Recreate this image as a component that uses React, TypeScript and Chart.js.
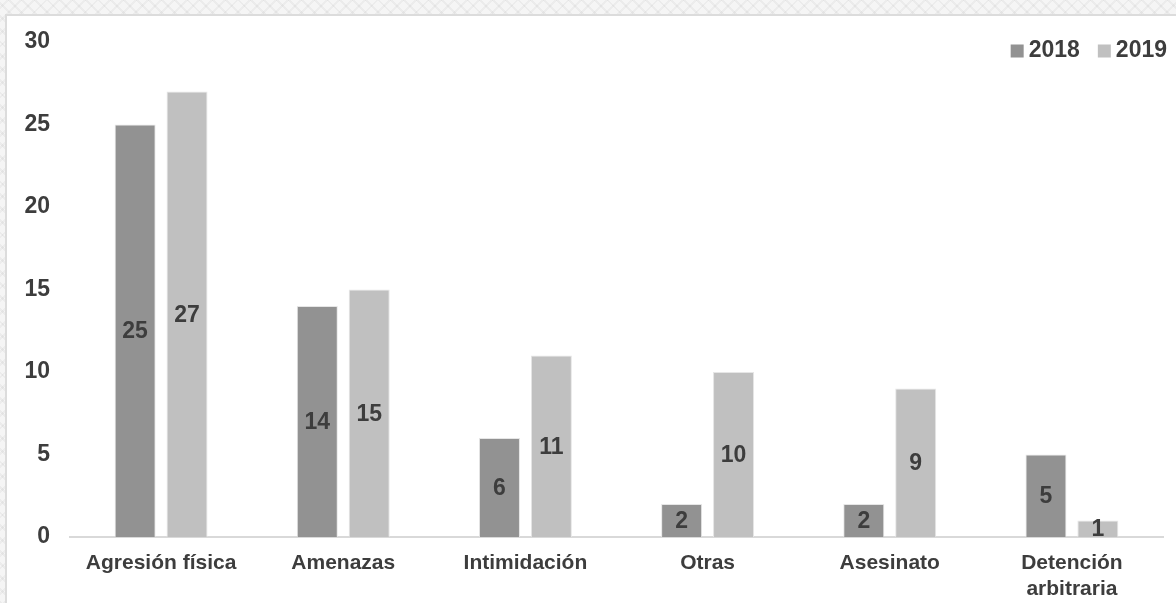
import React, { useEffect, useRef } from "react";
import { Chart, registerables } from "chart.js";

Chart.register(...registerables);

const categories: (string | string[])[] = [
  "Agresión física",
  "Amenazas",
  "Intimidación",
  "Otras",
  "Asesinato",
  ["Detención", "arbitraria"],
];
const series2018 = [25, 14, 6, 2, 2, 5];
const series2019 = [27, 15, 11, 10, 9, 1];
const seriesLabels = ["2018", "2019"];
const seriesColors = ["#929292", "#c0c0c0"];
const yTicks = [0, 5, 10, 15, 20, 25, 30];

const TEXT = "#3d3d3d";
const FONT = "'Liberation Sans', Arial, sans-serif";

const valueLabels = {
  id: "valueLabels",
  afterDatasetsDraw(chart: any) {
    const ctx = chart.ctx;
    ctx.save();
    ctx.font = `bold 23px ${FONT}`;
    ctx.fillStyle = TEXT;
    ctx.textAlign = "center";
    ctx.textBaseline = "middle";
    chart.data.datasets.forEach((ds: any, i: number) => {
      const meta = chart.getDatasetMeta(i);
      meta.data.forEach((bar: any, j: number) => {
        const y = (bar.y + bar.base) / 2;
        ctx.fillText(String(ds.data[j]), bar.x, y + 1);
      });
    });
    ctx.restore();
  },
};

const customLegend = {
  id: "customLegend",
  afterDraw(chart: any) {
    const ctx = chart.ctx;
    ctx.save();
    ctx.font = `bold 23px ${FONT}`;
    ctx.textBaseline = "middle";
    ctx.textAlign = "left";
    const right = 1167;
    const cy = 51;
    const box = 13;
    const gap = 5;
    const itemGap = 18;
    const items = chart.data.datasets.map((ds: any) => ({
      label: ds.label,
      color: ds.backgroundColor,
      w: ctx.measureText(ds.label).width,
    }));
    let total = 0;
    items.forEach((it: any, i: number) => {
      total += box + gap + it.w + (i < items.length - 1 ? itemGap : 0);
    });
    let x = right - total;
    items.forEach((it: any) => {
      ctx.fillStyle = it.color;
      ctx.fillRect(x, cy - box / 2, box, box);
      x += box + gap;
      ctx.fillStyle = TEXT;
      ctx.fillText(it.label, x, cy);
      x += it.w + itemGap;
    });
    ctx.restore();
  },
};

export default function App() {
  const ref = useRef<HTMLCanvasElement>(null);

  useEffect(() => {
    if (!ref.current) return;
    const chart = new Chart(ref.current, {
      type: "bar",
      data: {
        labels: categories,
        datasets: [
          {
            label: seriesLabels[0],
            data: series2018,
            backgroundColor: seriesColors[0],
            borderColor: "#e6e6e6",
            borderWidth: 1,
            barPercentage: 0.79,
            categoryPercentage: 0.57,
          },
          {
            label: seriesLabels[1],
            data: series2019,
            backgroundColor: seriesColors[1],
            borderColor: "#e6e6e6",
            borderWidth: 1,
            barPercentage: 0.79,
            categoryPercentage: 0.57,
          },
        ],
      },
      options: {
        responsive: false,
        animation: false,
        layout: { padding: { top: 42, left: 0, right: 13, bottom: 0 } },
        plugins: {
          legend: { display: false },
          tooltip: { enabled: false },
        },
        scales: {
          x: {
            grid: { display: false },
            border: { display: true, color: "#d9d9d9", width: 2 },
            ticks: {
              color: TEXT,
              font: { family: FONT, size: 21, weight: "bold", lineHeight: 1.2 },
              padding: 6,
              maxRotation: 0,
              autoSkip: false,
            },
            afterFit: (s: any) => {
              s.height = 66;
            },
          },
          y: {
            min: 0,
            max: 30,
            grid: { display: false },
            border: { display: false },
            afterBuildTicks: (s: any) => {
              s.ticks = yTicks.map((v) => ({ value: v }));
            },
            ticks: {
              color: TEXT,
              font: { family: FONT, size: 23, weight: "bold" },
              padding: 12,
            },
            afterFit: (s: any) => {
              s.width = 70;
            },
          },
        },
      },
      plugins: [valueLabels, customLegend],
    });
    return () => chart.destroy();
  }, []);

  return (
    <div
      style={{
        position: "absolute",
        left: 0,
        top: 0,
        width: 1176,
        height: 603,
        overflow: "hidden",
        backgroundColor: "#f5f5f5",
        backgroundImage:
          "repeating-linear-gradient(45deg, rgba(0,0,0,0.04) 0 2px, transparent 2px 9px), repeating-linear-gradient(-45deg, rgba(0,0,0,0.035) 0 2px, transparent 2px 9px)",
      }}
    >
      <div
        style={{
          position: "absolute",
          left: 5,
          top: 14,
          width: 1200,
          height: 620,
          background: "#ffffff",
          borderLeft: "2px solid #dcdcdc",
          borderTop: "2px solid #dcdcdc",
          boxSizing: "border-box",
        }}
      />
      <canvas
        ref={ref}
        width={1176}
        height={603}
        style={{ position: "absolute", left: 0, top: 0, width: 1176, height: 603 }}
      />
    </div>
  );
}
